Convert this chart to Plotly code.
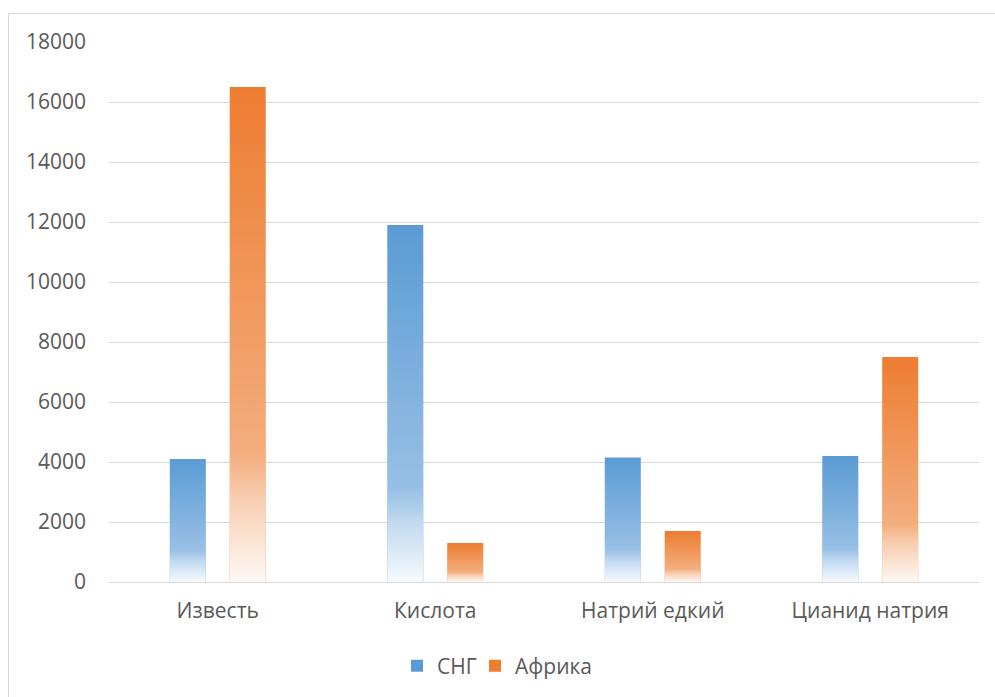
import plotly.graph_objects as go

categories = ["Известь", "Кислота", "Натрий едкий", "Цианид натрия"]
series_names = ["СНГ", "Африка"]
cis_values = [4100, 11900, 4150, 4200]
africa_values = [16500, 1300, 1700, 7500]
y_ticks = [0, 2000, 4000, 6000, 8000, 10000, 12000, 14000, 16000, 18000]
y_tick_labels = [str(v) for v in y_ticks]

colors = ["#5B9BD5", "#ED7D31"]
bar_width = 0.1655
gap = 0.11
offsets = [-gap / 2 - bar_width, gap / 2]

FONT = "Open Sans"
FS = 21
TXT = "#595959"

L, R, T, B = 109, 16, 42, 114
W, H = 995, 697
pw, ph = W - L - R, H - T - B

fig = go.Figure()
xs = list(range(len(categories)))
all_series = [cis_values, africa_values]
legend_ids = ["legend", "legend2"]

for name, vals, col, off, lg in zip(series_names, all_series, colors, offsets, legend_ids):
    fig.add_trace(go.Bar(
        x=xs, y=vals, name=name,
        marker=dict(color=col, line=dict(width=0)),
        width=bar_width, offset=off, legend=lg,
    ))

# white fade overlay (Excel-like vertical gradient), bottom -> top
fade = [[0.0, "rgba(255,255,255,0.95)"],
        [0.17, "rgba(255,255,255,0.62)"],
        [0.26, "rgba(255,255,255,0.37)"],
        [1.0, "rgba(255,255,255,0.0)"]]
for vals, off in zip(all_series, offsets):
    for xi, v in zip(xs, vals):
        x0 = xi + off
        x1 = x0 + bar_width
        fig.add_trace(go.Scatter(
            x=[x0, x1, x1, x0, x0], y=[0, 0, v, v, 0],
            mode="lines", fill="toself",
            line=dict(width=0, color="rgba(0,0,0,0)"),
            fillcolor="rgba(255,255,255,0)",
            fillgradient=dict(type="vertical", colorscale=fade, start=0, stop=v),
            hoverinfo="skip", showlegend=False,
        ))

leg_y = -(666 - (T + ph)) / ph
leg_common = dict(orientation="h", xanchor="left", y=leg_y, yanchor="middle",
                  font=dict(family=FONT, size=FS, color=TXT),
                  itemclick=False, bgcolor="rgba(0,0,0,0)")

fig.update_layout(
    width=W, height=H,
    margin=dict(l=L, r=R, t=T, b=B),
    paper_bgcolor="white", plot_bgcolor="white",
    font=dict(family=FONT, size=FS, color=TXT),
    showlegend=True,
    legend=dict(x=(397 - L) / pw, **leg_common),
    legend2=dict(x=(475 - L) / pw, **leg_common),
    xaxis=dict(range=[-0.5, 3.5], tickmode="array", tickvals=xs, ticktext=categories,
               showgrid=False, zeroline=False, showline=False, ticks="",
               ticklabelstandoff=14, fixedrange=True),
    yaxis=dict(range=[0, 18000], tickmode="array", tickvals=y_ticks, ticktext=y_tick_labels,
               showgrid=True, gridcolor="#D9D9D9", gridwidth=1,
               zeroline=True, zerolinecolor="#D9D9D9", zerolinewidth=1,
               showline=False, ticks="", ticklabelstandoff=22, fixedrange=True),
    shapes=[dict(type="rect", xref="paper", yref="paper",
                 x0=(8.5 - L) / pw, x1=(W + 5 - L) / pw,
                 y0=-(H + 5 - T - ph) / ph, y1=1 + (T - 13.5) / ph,
                 line=dict(color="#D9D9D9", width=1), layer="below")],
)

fig.write_html("out.html")
